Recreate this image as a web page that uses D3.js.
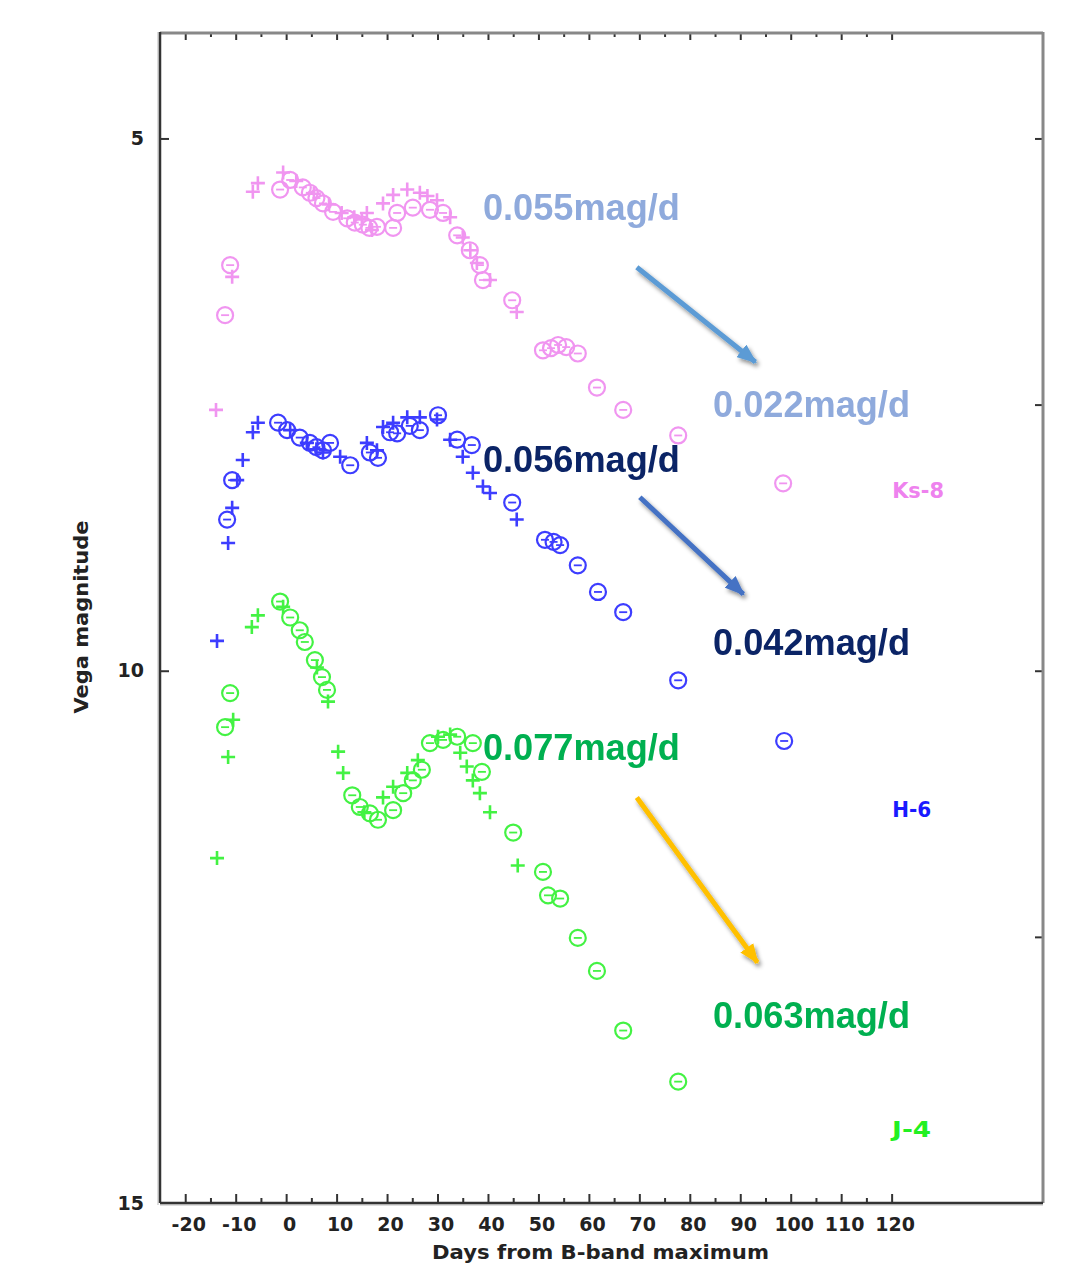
<!DOCTYPE html>
<html>
<head>
<meta charset="utf-8">
<script src="https://cdn.jsdelivr.net/npm/d3@7/dist/d3.min.js"></script>
<style>
body{margin:0;background:#fff;}
</style>
</head>
<body>
<div id="graph"></div>
<script>
// [days from B max, Vega mag]  (Ks shifted +8, H +6, J +4)
var ksCircles = [[-12.1,6.66],[-11.1,6.19],[-1.2,5.48],[0.8,5.39],[3.3,5.46],[4.7,5.51],[6.0,5.56],[7.3,5.61],[9.3,5.69],
	[12.1,5.75],[13.6,5.79],[15.2,5.81],[16.5,5.84],[18.0,5.83],[21.2,5.84],[22.0,5.70],[25.1,5.65],[28.5,5.67],[31.1,5.70],[33.9,5.91],
	[36.4,6.05],[38.4,6.19],[39.0,6.33],[44.8,6.52],[50.9,6.99],[52.5,6.97],[53.9,6.94],[55.5,6.96],[57.8,7.02],
	[61.6,7.34],[66.8,7.55],[77.7,7.79],[98.5,8.24]];
var ksPluses = [[-13.9,7.55],[-10.7,6.30],[-6.6,5.50],[-5.6,5.42],[-0.6,5.32],[2.0,5.40],[5.5,5.52],[8.5,5.62],
	[11.0,5.70],[13.5,5.74],[15.0,5.76],[16.0,5.70],[17.0,5.86],[19.2,5.61],[21.2,5.53],[24.0,5.48],[26.5,5.51],[28.0,5.54],[29.9,5.58],
	[32.5,5.74],[35.0,5.93],[36.5,6.05],[37.8,6.17],[40.4,6.33],[45.7,6.63]];

var hCircles = [[-11.7,8.58],[-10.7,8.21],[-1.6,7.67],[0.2,7.74],[2.7,7.81],[4.7,7.86],[6.0,7.90],[7.3,7.93],[8.7,7.86],
	[12.7,8.07],[16.6,7.95],[18.2,8.00],[20.6,7.76],[22.0,7.77],[24.5,7.70],[26.5,7.74],[30.1,7.60],[33.9,7.83],[36.8,7.88],
	[44.8,8.42],[51.3,8.77],[53.0,8.79],[54.3,8.82],[57.8,9.01],[61.8,9.26],[66.8,9.45],[77.7,10.09],[98.7,10.66]];
var hPluses = [[-13.7,9.72],[-11.5,8.80],[-10.7,8.47],[-9.7,8.21],[-8.6,8.02],[-6.6,7.76],[-5.6,7.67],[0.8,7.74],
	[4.1,7.86],[6.0,7.92],[7.3,7.95],[10.7,7.99],[16.0,7.86],[18.0,7.93],[19.2,7.71],[21.2,7.67],[24.0,7.62],[26.5,7.62],
	[29.9,7.64],[32.5,7.83],[35.0,7.99],[37.0,8.14],[39.0,8.27],[40.4,8.33],[45.7,8.58]];

var jCircles = [[-12.1,10.53],[-11.1,10.21],[-1.2,9.35],[0.8,9.50],[2.7,9.62],[3.7,9.73],[5.7,9.90],[7.1,10.06],
	[8.1,10.18],[13.1,11.17],[14.6,11.28],[16.6,11.34],[18.2,11.40],[21.2,11.31],[23.2,11.15],[25.1,11.03],
	[26.9,10.93],[28.5,10.68],[31.1,10.65],[33.9,10.62],[37.0,10.68],[38.8,10.95],[45.0,11.52],[50.9,11.89],
	[51.9,12.11],[54.3,12.14],[57.8,12.51],[61.6,12.82],[66.8,13.38],[77.7,13.86]];
var jPluses = [[-13.7,11.76],[-11.5,10.81],[-10.5,10.46],[-6.8,9.59],[-5.6,9.48],[-0.6,9.40],[6.1,9.97],
	[8.3,10.29],[10.3,10.76],[11.3,10.96],[15.5,11.33],[19.2,11.19],[21.2,11.09],[24.0,10.96],[26.1,10.84],[30.1,10.62],
	[32.5,10.60],[34.5,10.77],[35.8,10.90],[37.0,11.03],[38.4,11.15],[40.4,11.33],[45.9,11.83]];

var xMajor = [-20,-10,0,10,20,30,40,50,60,70,80,90,100,110,120];
var xMinor = [-15,-5,5,15,25,35,45,55,65,75,85,95,105,115];
var yMajor = [5,10,15];
var yMinor = [7.5,12.5];

var bandNames = ["Ks-8","H-6","J-4"];
var bandLabelAt = [[120.1,8.38],[120.1,11.37],[120.1,14.38]];

var slopeTexts = ["0.055mag/d","0.022mag/d","0.056mag/d","0.042mag/d","0.077mag/d","0.063mag/d"];
var slopeAt = [[39.0,5.77],[84.6,7.62],[39.0,8.13],[84.6,9.85],[39.0,10.84],[84.6,13.36]];
var arrowFrom = [[69.5,6.21],[70.1,8.37],[69.5,11.19]];
var arrowTo = [[93.0,7.10],[90.6,9.28],[93.4,12.74]];

var bandColors = ["#EE82EE","#1a1aff","#22f022"];
var slopeColors = ["#8FAADC","#8FAADC","#0B2466","#0B2466","#00B050","#00B050"];
var arrowColors = ["#5B9BD5","#4472C4","#FFC000"];

var W = 1070, H = 1279;
var x = d3.scaleLinear().domain([-25,150]).range([160,1043]);
var y = d3.scaleLinear().domain([4,15]).range([32,1203]);

var canvas = d3.select("#graph").append("svg")
	.attr("width",W)
	.attr("height",H)
	.style("background","#fff");

var defs = canvas.append("defs");
var f = defs.append("filter").attr("id","shadow").attr("x","-20%").attr("y","-20%").attr("width","140%").attr("height","140%");
f.append("feDropShadow").attr("dx",2).attr("dy",3).attr("stdDeviation",2)
	.attr("flood-color","#000").attr("flood-opacity",0.45);
arrowColors.forEach(function(c,i){
	defs.append("marker").attr("id","head"+i)
		.attr("markerUnits","userSpaceOnUse")
		.attr("viewBox","0 0 20 16")
		.attr("refX",18).attr("refY",8)
		.attr("markerWidth",20).attr("markerHeight",16)
		.attr("orient","auto")
		.append("path").attr("d","M0,0L20,8L0,16Z").attr("fill",c);
});

// axes
function styleAxis(g){
	g.select(".domain").remove();
	g.selectAll(".tick line").attr("stroke","#333").attr("stroke-width",2);
	g.selectAll("text").attr("fill","#222")
		.style("font-family","'DejaVu Sans', sans-serif")
		.style("font-weight","bold").style("font-size","19px");
}
var plain = function(d){return String(d);};
canvas.append("g").attr("transform","translate(0,"+y(15)+")")
	.call(d3.axisBottom(x).tickValues(xMajor).tickSizeInner(-9).tickSizeOuter(0).tickPadding(15).tickFormat(plain))
	.call(styleAxis)
	.selectAll("text").attr("dx",3);
canvas.append("g").attr("transform","translate(0,"+y(15)+")")
	.call(d3.axisBottom(x).tickValues(xMinor).tickSizeInner(-5).tickSizeOuter(0).tickFormat(""))
	.call(styleAxis);
canvas.append("g").attr("transform","translate(0,"+y(4)+")")
	.call(d3.axisTop(x).tickValues(xMajor).tickSizeInner(-8).tickSizeOuter(0).tickFormat(""))
	.call(styleAxis);
canvas.append("g").attr("transform","translate(0,"+y(4)+")")
	.call(d3.axisTop(x).tickValues(xMinor).tickSizeInner(-5).tickSizeOuter(0).tickFormat(""))
	.call(styleAxis);
canvas.append("g").attr("transform","translate("+x(-25)+",0)")
	.call(d3.axisLeft(y).tickValues(yMajor).tickSizeInner(-9).tickSizeOuter(0).tickPadding(16).tickFormat(plain))
	.call(styleAxis);
canvas.append("g").attr("transform","translate("+x(150)+",0)")
	.call(d3.axisRight(y).tickValues(yMajor.concat(yMinor)).tickSizeInner(-8).tickSizeOuter(0).tickFormat(""))
	.call(styleAxis);

// frame
canvas.append("line").attr("x1",x(-25)-2).attr("x2",x(-25)-2).attr("y1",y(4)).attr("y2",y(15)+2).attr("stroke","#ddd").attr("stroke-width",2);
canvas.append("line").attr("x1",x(-25)).attr("x2",x(150)).attr("y1",y(4)+1).attr("y2",y(4)+1).attr("stroke","#888").attr("stroke-width",3);
canvas.append("line").attr("x1",x(150)).attr("x2",x(150)).attr("y1",y(4)).attr("y2",y(15)).attr("stroke","#888").attr("stroke-width",3);
canvas.append("line").attr("x1",x(-25)).attr("x2",x(-25)).attr("y1",y(4)).attr("y2",y(15)).attr("stroke","#333").attr("stroke-width",2.5);
canvas.append("line").attr("x1",x(-25)).attr("x2",x(150)).attr("y1",y(15)+2).attr("y2",y(15)+2).attr("stroke","#ddd").attr("stroke-width",2);
canvas.append("line").attr("x1",x(-25)).attr("x2",x(150)).attr("y1",y(15)).attr("y2",y(15)).attr("stroke","#333").attr("stroke-width",2.5);

// axis titles
canvas.append("text")
	.attr("x",(x(-25)+x(150))/2 - 1).attr("y",1259)
	.attr("text-anchor","middle")
	.attr("textLength",337).attr("lengthAdjust","spacingAndGlyphs")
	.style("font-family","'DejaVu Sans', sans-serif").style("font-weight","bold").style("font-size","19px")
	.attr("fill","#222")
	.text("Days from B-band maximum");
canvas.append("text")
	.attr("transform","translate(88,617) rotate(-90)")
	.attr("text-anchor","middle")
	.attr("textLength",193).attr("lengthAdjust","spacingAndGlyphs")
	.style("font-family","'DejaVu Sans', sans-serif").style("font-weight","bold").style("font-size","19px")
	.attr("fill","#222")
	.text("Vega magnitude");

// data
var series = [[ksCircles,ksPluses],[hCircles,hPluses],[jCircles,jPluses]];
series.forEach(function(s,i){
	var col = bandColors[i];
	var g = canvas.append("g").attr("opacity",0.85);
	g.selectAll("path.plus")
		.data(s[1])
		.enter()
			.append("path")
			.attr("class","plus")
			.attr("transform",function(d){return "translate("+x(d[0])+","+y(d[1])+")";})
			.attr("d","M-7,0H7M0,-7V7")
			.attr("stroke",col)
			.attr("stroke-width",2.6)
			.attr("fill","none");
	var c = g.selectAll("g.circ")
		.data(s[0])
		.enter()
			.append("g")
			.attr("class","circ")
			.attr("transform",function(d){return "translate("+x(d[0])+","+y(d[1])+")";});
	c.append("circle").attr("r",8).attr("fill","none").attr("stroke",col).attr("stroke-width",2.2);
	c.append("path").attr("d","M-4,0H4").attr("stroke",col).attr("stroke-width",1.8);
});

// band labels
canvas.selectAll("text.band")
	.data(bandNames)
	.enter()
		.append("text")
		.attr("class","band")
		.attr("x",function(d,i){return x(bandLabelAt[i][0]);})
		.attr("y",function(d,i){return y(bandLabelAt[i][1]);})
		.attr("fill",function(d,i){return bandColors[i];})
		.attr("textLength",function(d){return d.length*13;}).attr("lengthAdjust","spacingAndGlyphs")
		.style("font-family","'DejaVu Sans', sans-serif").style("font-weight","bold").style("font-size","22px")
		.text(function(d){return d;});

// decline arrows
canvas.selectAll("line.arrow")
	.data(arrowFrom)
	.enter()
		.append("line")
		.attr("class","arrow")
		.attr("x1",function(d){return x(d[0]);})
		.attr("y1",function(d){return y(d[1]);})
		.attr("x2",function(d,i){return x(arrowTo[i][0]);})
		.attr("y2",function(d,i){return y(arrowTo[i][1]);})
		.attr("stroke",function(d,i){return arrowColors[i];})
		.attr("stroke-width",5)
		.attr("marker-end",function(d,i){return "url(#head"+i+")";})
		.attr("filter","url(#shadow)");

// decline rates
canvas.selectAll("text.slope")
	.data(slopeTexts)
	.enter()
		.append("text")
		.attr("class","slope")
		.attr("x",function(d,i){return x(slopeAt[i][0]);})
		.attr("y",function(d,i){return y(slopeAt[i][1]);})
		.attr("fill",function(d,i){return slopeColors[i];})
		.attr("textLength",197).attr("lengthAdjust","spacingAndGlyphs")
		.style("font-family","'Liberation Sans', Arial, sans-serif").style("font-weight","bold").style("font-size","37px")
		.text(function(d){return d;});
</script>
</body>
</html>
